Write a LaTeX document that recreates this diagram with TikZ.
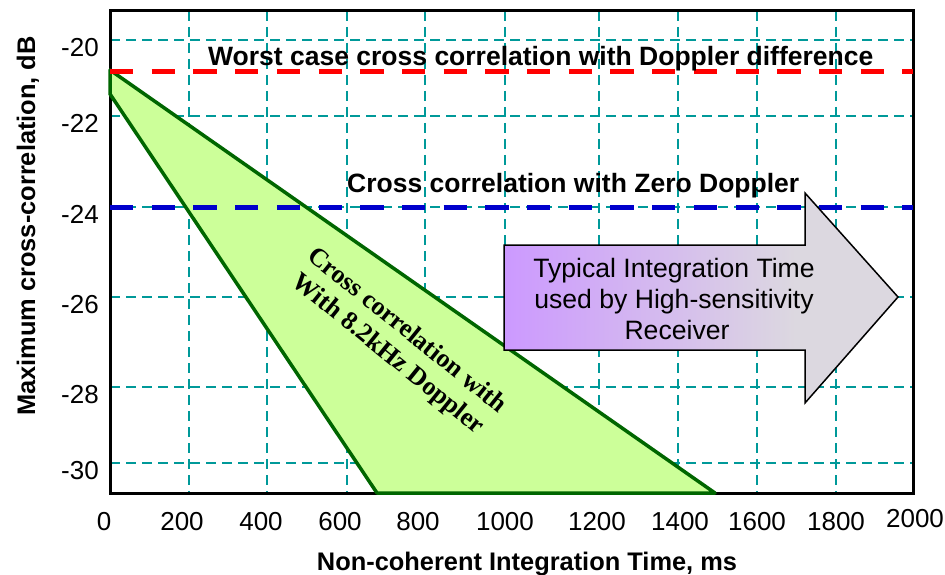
\documentclass[tikz,border=0pt]{standalone}
\usepackage{fontspec}
\setmainfont{Liberation Sans}
\newfontfamily\serifbf{Liberation Serif}
\definecolor{gridteal}{HTML}{009999}
\definecolor{tri}{HTML}{CCFF99}
\definecolor{trid}{HTML}{006600}
\definecolor{wred}{HTML}{FF0000}
\definecolor{zblue}{HTML}{0000CC}
\definecolor{apurple}{HTML}{CC99FF}
\definecolor{agray}{HTML}{DCD8E0}
\pgfdeclarehorizontalshading{arrowshade}{100bp}{color(0bp)=(apurple); color(25bp)=(apurple); color(62bp)=(agray); color(100bp)=(agray)}
\begin{document}
\begin{tikzpicture}[x=1pt,y=-1pt,
  gridline/.style={gridteal, line width=2.2pt, dash pattern=on 10pt off 6pt},
  refline/.style={line width=5pt, dash pattern=on 23.3pt off 18.4pt},
  ticklab/.style={font=\fontsize{26}{30}\selectfont, inner sep=0pt},
  axtitle/.style={font=\fontsize{25.4}{29}\selectfont\bfseries, inner sep=0pt},
  linelab/.style={font=\fontsize{26.5}{30}\selectfont\bfseries, inner sep=0pt},
  arrowtxt/.style={font=\fontsize{26.6}{31}\selectfont, inner sep=0pt, anchor=base}]
\useasboundingbox (0,0) rectangle (945,575);
% grid
\foreach \yy in {40,116,207,297,387,463} \draw[gridline] (110,\yy) -- (913,\yy);
\foreach \xx in {189,267,347,425,505,599,678,757,836} \draw[gridline] (\xx,11) -- (\xx,493);
% frame
\draw[line width=3pt] (110,11) rectangle (913,493);
% triangle region
\draw[fill=tri, draw=trid, line width=3.5pt, line join=round] (110,70) -- (715,493) -- (377,493) -- (110,94) -- cycle;
% reference lines
\draw[refline, wred] (110,72) -- (913,72);
\draw[refline, zblue] (110,207) -- (913,207);
% line labels
\node[linelab, anchor=base west] (worst) at (208,66) {Worst case cross correlation with Doppler difference};
\node[linelab, anchor=base west] (zero) at (347,193) {Cross correlation with Zero Doppler};
% triangle label
\node[font=\fontsize{26}{30}\selectfont\serifbf\bfseries, align=center, rotate=-39, inner sep=0pt] (dop) at (397,343) {Cross correlation with\\With 8.2kHz Doppler};
% arrow
\draw[shading=arrowshade, draw=black, line width=1.5pt, line join=miter]
  (504,245) -- (805,245) -- (805,193) -- (898,297) -- (805,403) -- (805,350) -- (504,350) -- cycle;
\node[arrowtxt] (t1) at (674,277) {Typical Integration Time};
\node[arrowtxt] (t2) at (674,308) {used by High-sensitivity};
\node[arrowtxt] (t3) at (677,339) {Receiver};
% y tick labels
\foreach \v/\yy in {-20/40,-22/116,-24/207,-26/297,-28/387,-30/463}
  \node[ticklab, anchor=base east] (yl\v) at (99,\yy+16.5) {\v};
% x tick labels
\foreach \v/\xx in {0/104,200/182,400/261,600/340,800/418,1000/505,1200/597,1400/680,1600/757,1800/836}
  \node[ticklab, anchor=base] (xl\v) at (\xx,530) {\v};
\node[ticklab, anchor=base] (xl2000) at (915,527) {2000};
% axis titles
\node[axtitle, anchor=base] (xt) at (527,570) {Non-coherent Integration Time, ms};
\node[axtitle, anchor=base, rotate=90] (yt) at (35,226) {Maximum cross-correlation, dB};
\end{tikzpicture}
\end{document}
